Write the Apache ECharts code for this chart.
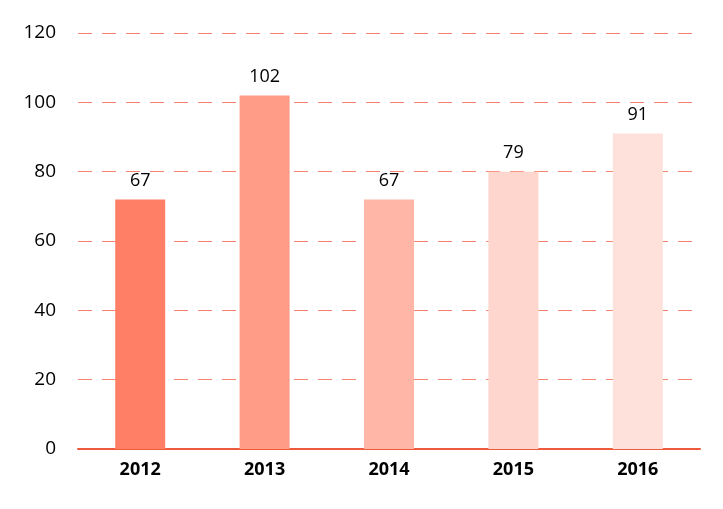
<!DOCTYPE html>
<html lang="en">
<head>
	<meta charset="UTF-8">
	<title>Chart</title>
	<style>
		*{margin:0;padding:0;}
		#box{width:723px;height:509px;}
	</style>
	<script src="https://cdn.jsdelivr.net/npm/echarts@6/dist/echarts.min.js"></script>
</head>
<body>
	<div id="box"></div>
	<script>
		var years = ['2012', '2013', '2014', '2015', '2016'];
		var heights = [72, 102, 72, 80, 91];
		var labels = [67, 102, 67, 79, 91];
		var colors = ['#ff7f66', '#ff9c88', '#ffb6a7', '#ffd6cd', '#ffe1db'];

		var chart = echarts.init(document.getElementById('box'));
		var option = {
			animation: false,
			grid: {left: 78, right: 23, top: 33, bottom: 60},
			xAxis: {
				type: 'category',
				data: years,
				axisLine: {lineStyle: {color: '#f05a3c', width: 2}},
				axisTick: {show: false},
				axisLabel: {color: '#000', fontSize: 18, fontWeight: 'bold', margin: 12, fontFamily: 'Open Sans'}
			},
			yAxis: {
				type: 'value',
				min: 0, max: 120, interval: 20,
				axisLine: {show: false},
				axisTick: {show: false},
				axisLabel: {color: '#000', fontSize: 19, margin: 22, fontFamily: 'Open Sans'},
				splitLine: {lineStyle: {color: '#f7836e', type: [14, 10], width: 1.2}}
			},
			series: [{
				type: 'bar',
				barWidth: 50,
				data: heights.map(function (v, i) {
					return {value: v, itemStyle: {color: colors[i]}};
				}),
				label: {
					show: true,
					position: 'top',
					distance: 10,
					color: '#000',
					fontSize: 18,
					fontFamily: 'Open Sans',
					formatter: function (p) { return labels[p.dataIndex]; }
				}
			}]
		};
		chart.setOption(option);
	</script>
</body>
</html>
